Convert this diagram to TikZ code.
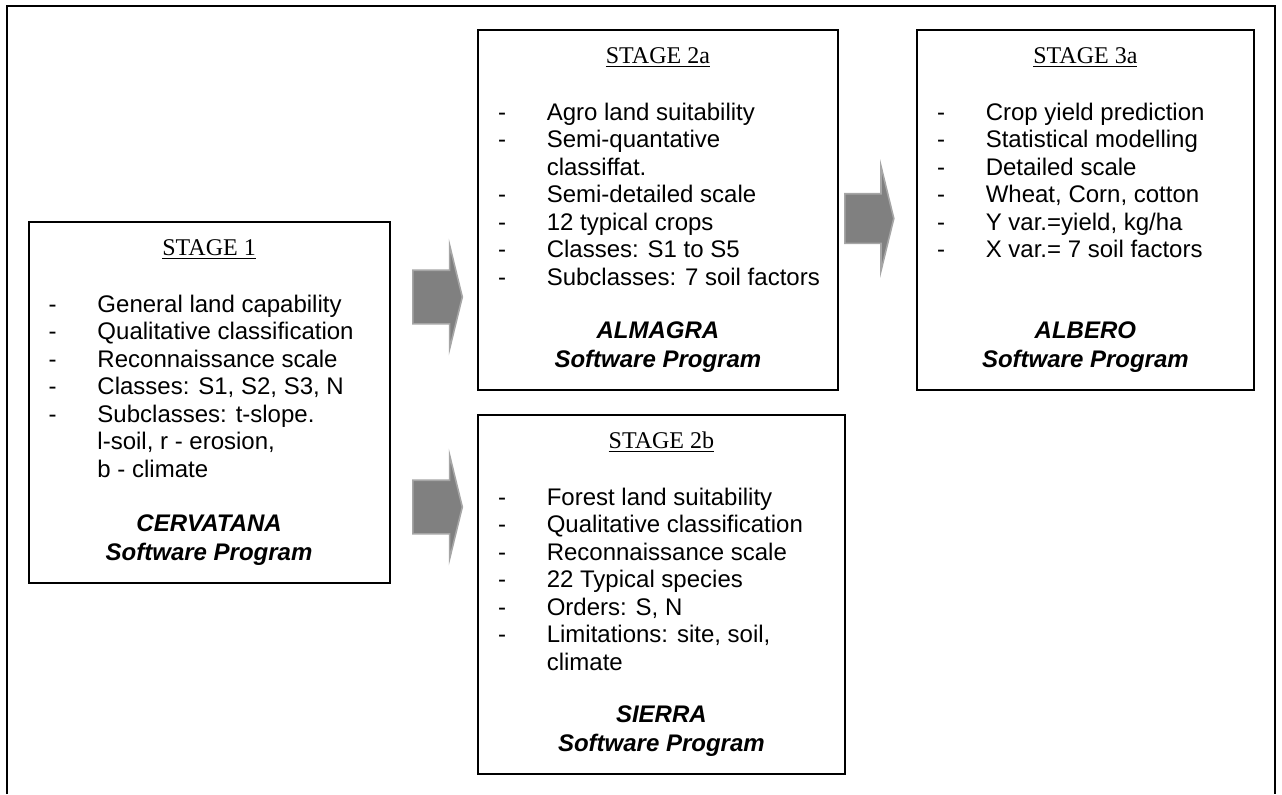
\documentclass[tikz,border=0pt]{standalone}
\usepackage{fontspec}
\setmainfont{Liberation Sans}
\newfontfamily\stageserif{Liberation Serif}
\usepackage{tikz}
\usetikzlibrary{positioning,calc,shapes.arrows}
\usepackage{xcolor}
\definecolor{arrowgray}{RGB}{128,128,128}
\definecolor{arrowrim}{RGB}{166,166,166}

\tikzset{
  stagebox/.style={draw,line width=0.9pt,anchor=north west,inner sep=0pt},
  stagetitle/.style={font=\stageserif\fontsize{12}{13.8}\selectfont,anchor=base,inner sep=0pt},
  itemline/.style={font=\fontsize{12}{13.8}\selectfont,anchor=base west,inner sep=0pt},
  progname/.style={font=\bfseries\itshape\fontsize{12}{14.5}\selectfont,align=center,anchor=south,inner sep=0pt},
  blockarrow/.style={single arrow,fill=arrowgray,draw=arrowrim,line width=0.8pt,
    inner xsep=0pt,inner ysep=13pt,single arrow head extend=12.5pt,
    single arrow tip angle=152.5,minimum height=24.75pt,anchor=tail}
}

\begin{document}
\begin{tikzpicture}[x=0.5pt,y=-0.5pt]
\useasboundingbox (0,0) rectangle (1282,794);
% outer frame, open at the bottom
\draw[line width=0.9pt] (7,794) |- (1275,6) -- (1275,794);

% stage boxes
\node[stagebox,minimum width=180.5pt,minimum height=180.5pt] (s1) at (27.7,221) {};
\node[stagebox,minimum width=180pt,minimum height=180pt] (s2a) at (477,29) {};
\node[stagebox,minimum width=168.5pt,minimum height=180pt] (s3a) at (916,29) {};
\node[stagebox,minimum width=183.5pt,minimum height=179.5pt] (s2b) at (477,414) {};

% titles
\node[stagetitle] (s1t) at ([yshift=-17pt]s1.north) {\underline{STAGE 1}};
\node[stagetitle] (s2at) at ([yshift=-17pt]s2a.north) {\underline{STAGE 2a}};
\node[stagetitle] (s3at) at ([yshift=-17pt]s3a.north) {\underline{STAGE 3a}};
\node[stagetitle] (s2bt) at ([yshift=-17pt]s2b.north) {\underline{STAGE 2b}};

% item lists
\foreach \d/\t [count=\k from 0] in {-/{General land capability},-/{Qualitative classification},
    -/{Reconnaissance scale},-/{Classes: S1, S2, S3, N},-/{Subclasses: t-slope.},
    /{l-soil, r - erosion,},/{b - climate}}
  \node[itemline] (s1i\k) at ([xshift=10.3pt,yshift=-45.5pt-\k*13.75pt]s1.north west) {\makebox[24.4pt][l]{\d}\t};
\foreach \d/\t [count=\k from 0] in {-/{Agro land suitability},-/{Semi-quantative},/{classiffat.},
    -/{Semi-detailed scale},-/{12 typical crops},-/{Classes: S1 to S5},-/{Subclasses: 7 soil factors}}
  \node[itemline] (s2ai\k) at ([xshift=10.3pt,yshift=-45.5pt-\k*13.75pt]s2a.north west) {\makebox[24.4pt][l]{\d}\t};
\foreach \d/\t [count=\k from 0] in {-/{Crop yield prediction},-/{Statistical modelling},-/{Detailed scale},
    -/{Wheat, Corn, cotton},-/{Y var.=yield, kg/ha},-/{X var.= 7 soil factors}}
  \node[itemline] (s3ai\k) at ([xshift=10.3pt,yshift=-45.5pt-\k*13.75pt]s3a.north west) {\makebox[24.4pt][l]{\d}\t};
\foreach \d/\t [count=\k from 0] in {-/{Forest land suitability},-/{Qualitative classification},
    -/{Reconnaissance scale},-/{22 Typical species},-/{Orders: S, N},-/{Limitations: site, soil,},/{climate}}
  \node[itemline] (s2bi\k) at ([xshift=10.3pt,yshift=-45.5pt-\k*13.75pt]s2b.north west) {\makebox[24.4pt][l]{\d}\t};

% software programs
\node[progname] (s1p) at ([yshift=9pt]s1.south) {CERVATANA\\Software Program};
\node[progname] (s2ap) at ([yshift=9pt]s2a.south) {ALMAGRA\\Software Program};
\node[progname] (s3ap) at ([yshift=9pt]s3a.south) {ALBERO\\Software Program};
\node[progname] (s2bp) at ([yshift=9pt]s2b.south) {SIERRA\\Software Program};

% block arrows
\node[blockarrow] (a12a) at (412,297) {};
\node[blockarrow] (a12b) at (412,507) {};
\node[blockarrow,inner ysep=12pt,single arrow head extend=13.8pt,minimum height=24.5pt] (a2a3a) at (844,218.5) {};
\end{tikzpicture}
\end{document}
